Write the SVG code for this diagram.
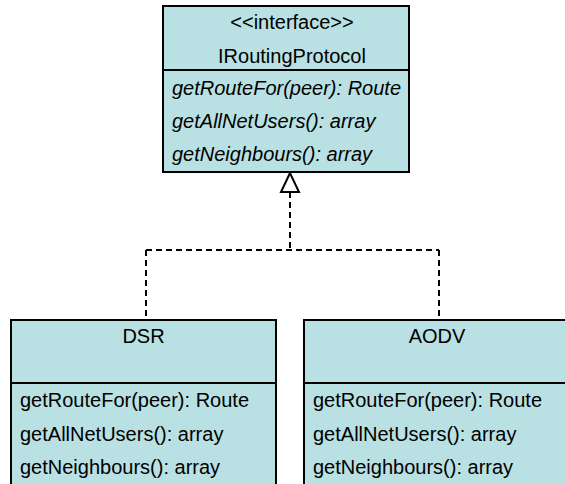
<svg xmlns="http://www.w3.org/2000/svg" width="565" height="484" viewBox="0 0 565 484">
  <style>
    .box { fill: #b9e0e3; stroke: #000; stroke-width: 2; }
    .sep { stroke: #000; stroke-width: 2; }
    .t { font-family: "Liberation Sans", Arial, sans-serif; font-size: 20px; fill: #000; }
    .c { text-anchor: middle; }
    .i { font-style: italic; }
    .dash { fill: none; stroke: #000; stroke-width: 2; stroke-dasharray: 6 4; }
  </style>
  <rect width="565" height="484" fill="#fff"/>

  <!-- realization connectors -->
  <g id="connectors">
    <path class="dash" d="M290 192 V250 M146 250 H439 M146 250 V320 M439 250 V320"/>
    <polygon points="290,173 281,192 299,192" fill="#fff" stroke="#000" stroke-width="2"/>
  </g>

  <!-- interface -->
  <g id="IRoutingProtocol">
    <rect class="box" x="163" y="6" width="246" height="166"/>
    <line class="sep" x1="163" y1="70" x2="409" y2="70"/>
    <text class="t c" x="292" y="29">&lt;&lt;interface&gt;&gt;</text>
    <text class="t c" x="292" y="63">IRoutingProtocol</text>
    <text class="t i" x="172" y="95">getRouteFor(peer): Route</text>
    <text class="t i" x="172" y="128">getAllNetUsers(): array</text>
    <text class="t i" x="172" y="161">getNeighbours(): array</text>
  </g>

  <!-- DSR -->
  <g id="DSR">
    <rect class="box" x="11" y="320" width="265" height="180"/>
    <line class="sep" x1="11" y1="383" x2="276" y2="383"/>
    <text class="t c" x="143.5" y="343">DSR</text>
    <text class="t" x="20" y="407">getRouteFor(peer): Route</text>
    <text class="t" x="20" y="441">getAllNetUsers(): array</text>
    <text class="t" x="20" y="474">getNeighbours(): array</text>
  </g>

  <!-- AODV -->
  <g id="AODV">
    <rect class="box" x="304" y="320" width="266" height="180"/>
    <line class="sep" x1="304" y1="383" x2="570" y2="383"/>
    <text class="t c" x="437" y="343">AODV</text>
    <text class="t" x="313" y="407">getRouteFor(peer): Route</text>
    <text class="t" x="313" y="441">getAllNetUsers(): array</text>
    <text class="t" x="313" y="474">getNeighbours(): array</text>
  </g>
</svg>
